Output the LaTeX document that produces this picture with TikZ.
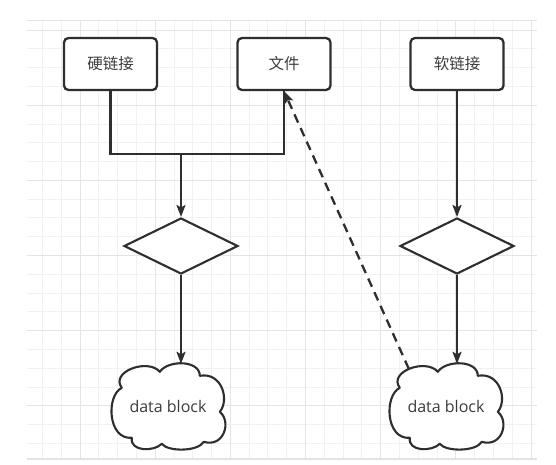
\documentclass[tikz,border=0pt]{standalone}
\usepackage{fontspec}
\setmainfont{Open Sans}
\newfontfamily\cjk{Noto Sans CJK SC}
\usetikzlibrary{shapes.geometric,arrows.meta,calc}
\definecolor{ink}{HTML}{2E2E2E}
\definecolor{txt}{HTML}{3C3C3C}
\definecolor{gminor}{HTML}{F1F1F1}
\definecolor{gmajor}{HTML}{E4E4E4}
\definecolor{gborder}{HTML}{E2E2EA}
\tikzset{
  filebox/.style={draw=ink, line width=2.3pt, rounded corners=4.5pt, fill=white,
    minimum width=93pt, minimum height=52pt, inner sep=0pt, text=txt,
    font=\cjk\fontsize{15.5}{18}\selectfont},
  decide/.style={diamond, draw=ink, line width=2.1pt, fill=white,
    minimum width=114pt, minimum height=56pt, inner sep=0pt},
  cloudbox/.style={minimum width=112pt, minimum height=85pt, inner sep=0pt,
    text=txt, font=\fontsize{16}{19}\selectfont},
  cloudline/.style={draw=ink, line width=2.1pt, fill=white, line join=round},
  link/.style={draw=ink, line width=2.3pt},
  arr/.style={link, -{Stealth[length=12pt,width=9pt,inset=2.5pt]}},
  darr/.style={arr, dash pattern=on 9pt off 6pt},
}
\newcommand{\cloudoutline}[1]{%
  \begin{scope}[shift={(#1.north west)}]
    \path[cloudline] (10,24) .. controls (-2,8) and (36,-6) .. (48,8)
      .. controls (56,-4) and (88,-4) .. (88,12)
      .. controls (110,8) and (118,36) .. (108,48)
      .. controls (120,58) and (112,84) .. (92,78)
      .. controls (86,88) and (56,88) .. (50,80)
      .. controls (42,88) and (18,88) .. (20,74)
      .. controls (-4,76) and (-6,32) .. cycle;
  \end{scope}}
\begin{document}
\begin{tikzpicture}[x=1pt,y=-1pt]
\useasboundingbox (0,0) rectangle (556,464);
\fill[white] (0,0) rectangle (556,464);
% grid
\begin{scope}
  \clip (27,20) rectangle (537,459);
  \foreach \i in {-3,...,24} {
    \draw[gminor, line width=0.9pt] (80+\i*18.79,20) -- (80+\i*18.79,459);
  }
  \foreach \i in {-1,...,23} {
    \draw[gminor, line width=0.9pt] (27,30+\i*18.79) -- (537,30+\i*18.79);
  }
  \foreach \i in {-1,...,6} {
    \draw[gmajor, line width=0.9pt] (80+\i*75.17,20) -- (80+\i*75.17,459);
  }
  \foreach \i in {0,...,5} {
    \draw[gmajor, line width=0.9pt] (27,30+\i*75.17) -- (537,30+\i*75.17);
  }
\end{scope}
\draw[gborder, line width=1pt] (27,20.5) -- (537,20.5);
\draw[gborder, line width=1.3pt] (27,459) -- (537,459);
% nodes
\node[filebox] (b1) at (110.5,64) {硬链接};
\node[filebox] (b2) at (284,64) {文件};
\node[filebox] (b3) at (457,64) {软链接};
\node[decide] (d1) at (181,246) {};
\node[decide] (d2) at (457,246) {};
\node[cloudbox] (c1) at (168,406.5) {};
\node[cloudbox] (c2) at (446,406.5) {};
\cloudoutline{c1}
\cloudoutline{c2}
\node[cloudbox] (t1) at (c1.center) {data block};
\node[cloudbox] (t2) at (c2.center) {data block};
% connectors
\coordinate (hbar) at (0,154);
\draw[link] (b1.south) |- (b2.south |- hbar) -- (b2.south);
\draw[arr] (d1.north |- hbar) -- (d1.north);
\draw[arr] (d1.south) -- (d1.south |- c1.north);
\draw[arr] (b3.south) -- (d2.north);
\draw[arr] (d2.south) -- (d2.south |- c2.north);
\coordinate (c2d) at ($(c2.north west)+(19,5)$);
\draw[darr] (c2d) -- (b2.south);
\end{tikzpicture}
\end{document}
